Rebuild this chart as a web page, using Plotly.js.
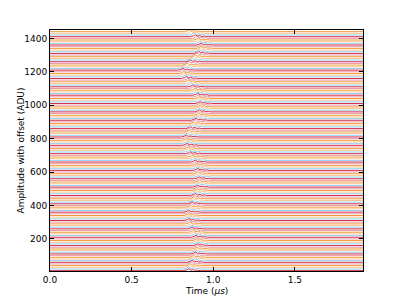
<!DOCTYPE html>
<html>
<head>
<meta charset="utf-8">
<script src="https://cdn.plot.ly/plotly-3.0.1.min.js"></script>
<style>html,body{margin:0;padding:0;background:#fff;}#chart{width:403px;height:302px;}</style>
</head>
<body>
<div id="chart"></div>
<script>
// Record window (µs)
const recordStart = 0.0;
const recordEnd = 1.92;
// Offset step between waveforms (ADU)
const offsetStep = 10;
// Peak time of the pulse in each waveform, bottom (offset 10) to top (offset 1440), µs
const pulseTimes = [
 0.85,0.85,0.855,0.86,0.865,0.87,0.87,0.875,0.88,0.885,
 0.89,0.895,0.90,0.90,0.905,0.905,0.905,0.905,0.90,0.90,
 0.895,0.89,0.885,0.88,0.875,0.87,0.87,0.865,0.86,0.855,
 0.85,0.85,0.85,0.85,0.85,0.85,0.855,0.855,0.86,0.865,
 0.87,0.87,0.875,0.88,0.885,0.89,0.895,0.895,0.90,0.905,
 0.905,0.91,0.91,0.915,0.915,0.915,0.915,0.915,0.91,0.91,
 0.905,0.905,0.90,0.90,0.895,0.89,0.885,0.88,0.875,0.865,
 0.86,0.855,0.85,0.85,0.845,0.84,0.84,0.835,0.835,0.835,
 0.835,0.84,0.845,0.85,0.855,0.86,0.87,0.875,0.88,0.89,
 0.895,0.90,0.905,0.91,0.91,0.915,0.915,0.92,0.92,0.92,
 0.92,0.92,0.915,0.915,0.91,0.905,0.90,0.895,0.89,0.88,
 0.875,0.865,0.86,0.85,0.845,0.835,0.83,0.825,0.82,0.815,
 0.815,0.82,0.83,0.84,0.85,0.86,0.87,0.88,0.89,0.90,
 0.91,0.915,0.92,0.925,0.925,0.925,0.92,0.915,0.91,0.90,
 0.89,0.88,0.865,0.855
];
// Pulse shape relative to the peak: time shift (µs) and amplitude (ADU)
const pulseDt  = [-0.03, -0.012, 0.0, 0.014, 0.028, 0.042, 0.056, 0.07];
const pulseAmp = [0, 5, 12, 3, 6, 1, 3, 0];
// Line colour cycle
const lineColors = ["#d42a45", "#8fd0f2", "#fcc38e", "#f39a3a", "#e89aa6"];

const traces = [];
for (let i = 0; i < pulseTimes.length; i++) {
  const off = offsetStep * (i + 1);
  const t0 = pulseTimes[i];
  const xs = [recordStart];
  const ys = [off];
  for (let j = 0; j < pulseDt.length; j++) {
    xs.push(t0 + pulseDt[j]);
    ys.push(off + pulseAmp[j]);
  }
  xs.push(recordEnd);
  ys.push(off);
  traces.push({
    x: xs, y: ys, type: 'scatter', mode: 'lines',
    line: {color: lineColors[i % lineColors.length], width: 1},
    hoverinfo: 'skip', showlegend: false
  });
}

const font = {family: 'DejaVu Sans, sans-serif', size: 9, color: '#000'};
const layout = {
  width: 403, height: 302,
  margin: {l: 50, r: 40, t: 30, b: 31, pad: 0},
  paper_bgcolor: '#fff', plot_bgcolor: '#fff',
  font: font,
  showlegend: false,
  xaxis: {
    range: [0, 1.917], tickvals: [0, 0.5, 1.0, 1.5], tickformat: '.1f',
    ticks: 'inside', ticklen: 4, tickcolor: '#000', tickwidth: 1,
    showline: true, linecolor: '#000', linewidth: 1, mirror: 'ticks',
    showgrid: false, zeroline: false,
    tickfont: font
  },
  yaxis: {
    range: [8, 1450], tickvals: [200, 400, 600, 800, 1000, 1200, 1400],
    ticks: 'inside', ticklen: 4, tickcolor: '#000', tickwidth: 1,
    showline: true, linecolor: '#000', linewidth: 1, mirror: 'ticks',
    showgrid: false, zeroline: false,
    tickfont: font
  },
  annotations: [
    {text: 'Time (<i>µs</i>)', xref: 'paper', yref: 'paper', x: 0.5, y: -0.085,
     xanchor: 'center', yanchor: 'middle', showarrow: false, font: font},
    {text: 'Amplitude with offset (ADU)', xref: 'paper', yref: 'paper', x: -0.0958, y: 0.5,
     xanchor: 'center', yanchor: 'middle', textangle: -90, showarrow: false, font: font}
  ]
};
Plotly.newPlot('chart', traces, layout, {displayModeBar: false, staticPlot: true});
</script>
</body>
</html>
